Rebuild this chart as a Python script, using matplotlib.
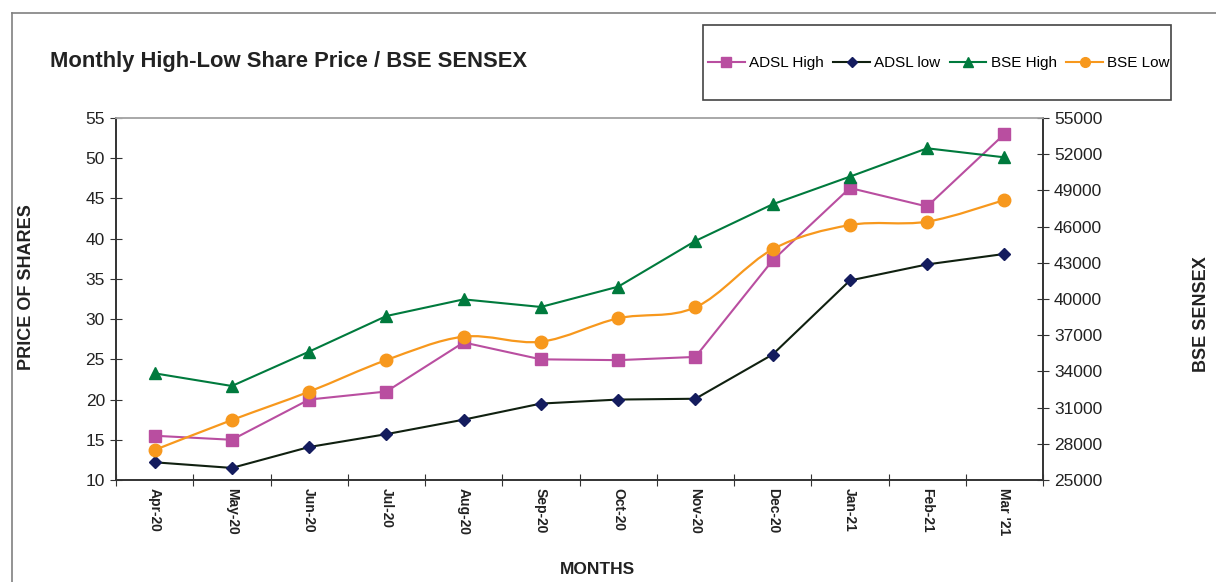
import matplotlib.pyplot as plt
from matplotlib.path import Path
from matplotlib.patches import PathPatch, Rectangle
from matplotlib.lines import Line2D

plt.rcParams['font.family'] = ['Liberation Sans', 'DejaVu Sans']

months = ["Apr-20", "May-20", "Jun-20", "Jul-20", "Aug-20", "Sep-20",
          "Oct-20", "Nov-20", "Dec-20", "Jan-21", "Feb-21", "Mar '21"]
adsl_high = [15.5, 15.0, 20.0, 21.0, 27.1, 25.0, 24.9, 25.3, 37.3, 46.3, 44.0, 53.0]
adsl_low = [12.2, 11.5, 14.1, 15.7, 17.5, 19.5, 20.0, 20.1, 25.6, 34.8, 36.8, 38.1]
bse_high = [33840, 32790, 35640, 38590, 39970, 39340, 41020, 44810, 47850, 50140, 52490, 51740]
bse_low = [27490, 29970, 32320, 34940, 36880, 36460, 38400, 39310, 44120, 46130, 46410, 48200]

c_high = '#b94ea0'
c_low_line = '#102010'
c_low_mk = '#141c5e'
c_bse_high = '#007a3d'
c_bse_low = '#f7981d'

fig = plt.figure(figsize=(12.16, 5.82), dpi=100)
ax = fig.add_axes([116 / 1216, 1 - 480 / 582, (1043 - 116) / 1216, (480 - 118) / 582])
ax2 = ax.twinx()

x = list(range(len(months)))

ax.plot(x, adsl_high, color=c_high, lw=1.5, marker='s', ms=9, mec=c_high, mfc=c_high)
ax.plot(x, adsl_low, color=c_low_line, lw=1.5, marker='D', ms=6.5, mec=c_low_mk, mfc=c_low_mk)
ax2.plot(x, bse_high, color=c_bse_high, lw=1.5, marker='^', ms=9, mec=c_bse_high, mfc=c_bse_high)

# smoothed line (Excel style) through the BSE Low points
verts = [(x[0], bse_low[0])]
codes = [Path.MOVETO]
n = len(x)
for i in range(n - 1):
    x0, y0 = x[max(i - 1, 0)], bse_low[max(i - 1, 0)]
    x1, y1 = x[i], bse_low[i]
    x2, y2 = x[i + 1], bse_low[i + 1]
    x3, y3 = x[min(i + 2, n - 1)], bse_low[min(i + 2, n - 1)]
    verts += [(x1 + (x2 - x0) / 6, y1 + (y2 - y0) / 6),
              (x2 - (x3 - x1) / 6, y2 - (y3 - y1) / 6),
              (x2, y2)]
    codes += [Path.CURVE4] * 3
ax2.add_patch(PathPatch(Path(verts, codes), fill=False, edgecolor=c_bse_low, lw=1.6))
ax2.plot(x, bse_low, ls='none', marker='o', ms=9, mec=c_bse_low, mfc=c_bse_low)

ax.set_xlim(-0.5, len(months) - 0.5)
ax.set_ylim(10, 55)
ax.set_yticks(range(10, 56, 5))
ax2.set_ylim(25000, 55000)
ax2.set_yticks(range(25000, 55001, 3000))

ax.set_xticks([i + 0.5 for i in range(-1, len(months))], minor=False)
ax.set_xticklabels([])
ax.set_xticks(x, minor=True)
ax.set_xticklabels(months, minor=True, rotation=-90, fontsize=10, fontweight='bold', color='#222222')
ax.tick_params(axis='x', which='minor', length=0, pad=6)
ax.tick_params(axis='x', which='major', direction='inout', length=8, color='#333333')
ax.tick_params(axis='y', direction='inout', length=8, labelsize=12.5, color='#333333', labelcolor='#222222', pad=4)
ax2.tick_params(axis='y', direction='inout', length=8, labelsize=12.5, color='#333333', labelcolor='#222222', pad=4)

for a in (ax, ax2):
    for s in ('left', 'right', 'bottom'):
        a.spines[s].set_color('#333333')
        a.spines[s].set_linewidth(1.2)
    a.spines['top'].set_color('#a8a8a8')
    a.spines['top'].set_linewidth(1.2)

ax.set_ylabel("PRICE OF SHARES", fontsize=13, fontweight='bold', color='#222222')
ax.yaxis.set_label_coords(-0.087, 0.532)
ax2.set_ylabel("BSE SENSEX", fontsize=13, fontweight='bold', color='#222222')
ax2.yaxis.set_label_coords(1.162, 0.459)
fig.text(597 / 1216, 1 - 570 / 582, "MONTHS", fontsize=12.5, fontweight='bold', color='#222222',
         ha='center', va='center')

fig.text(50 / 1216, 1 - 62 / 582, "Monthly High-Low Share Price / BSE SENSEX", fontsize=15.8,
         fontweight='bold', color='#222222', ha='left', va='center')

# outer chart border (cropped on right and bottom)
fig.add_artist(Line2D([12 / 1216, 12 / 1216], [0, 1 - 13 / 582], color='#808080', lw=1.2))
fig.add_artist(Line2D([12 / 1216, 1], [1 - 13 / 582, 1 - 13 / 582], color='#808080', lw=1.2))

# legend box
fig.add_artist(Rectangle((703 / 1216, 1 - 100 / 582), (1171 - 703) / 1216, 75 / 582,
                         transform=fig.transFigure, fill=False, edgecolor='#444444', lw=1.2))
handles = [
    Line2D([], [], color=c_high, lw=1.5, marker='s', ms=7, mec=c_high, mfc=c_high),
    Line2D([], [], color=c_low_line, lw=1.5, marker='D', ms=5, mec=c_low_mk, mfc=c_low_mk),
    Line2D([], [], color=c_bse_high, lw=1.5, marker='^', ms=7, mec=c_bse_high, mfc=c_bse_high),
    Line2D([], [], color=c_bse_low, lw=1.5, marker='o', ms=7, mec=c_bse_low, mfc=c_bse_low),
]
fig.legend(handles, ["ADSL High", "ADSL low", "BSE High", "BSE Low"], ncol=4, frameon=False,
           loc='center', bbox_to_anchor=(939 / 1216, 1 - 63 / 582), fontsize=11,
           handlelength=2.4, handletextpad=0.3, columnspacing=0.6, borderpad=0)

fig.savefig("out.png", dpi=100)
